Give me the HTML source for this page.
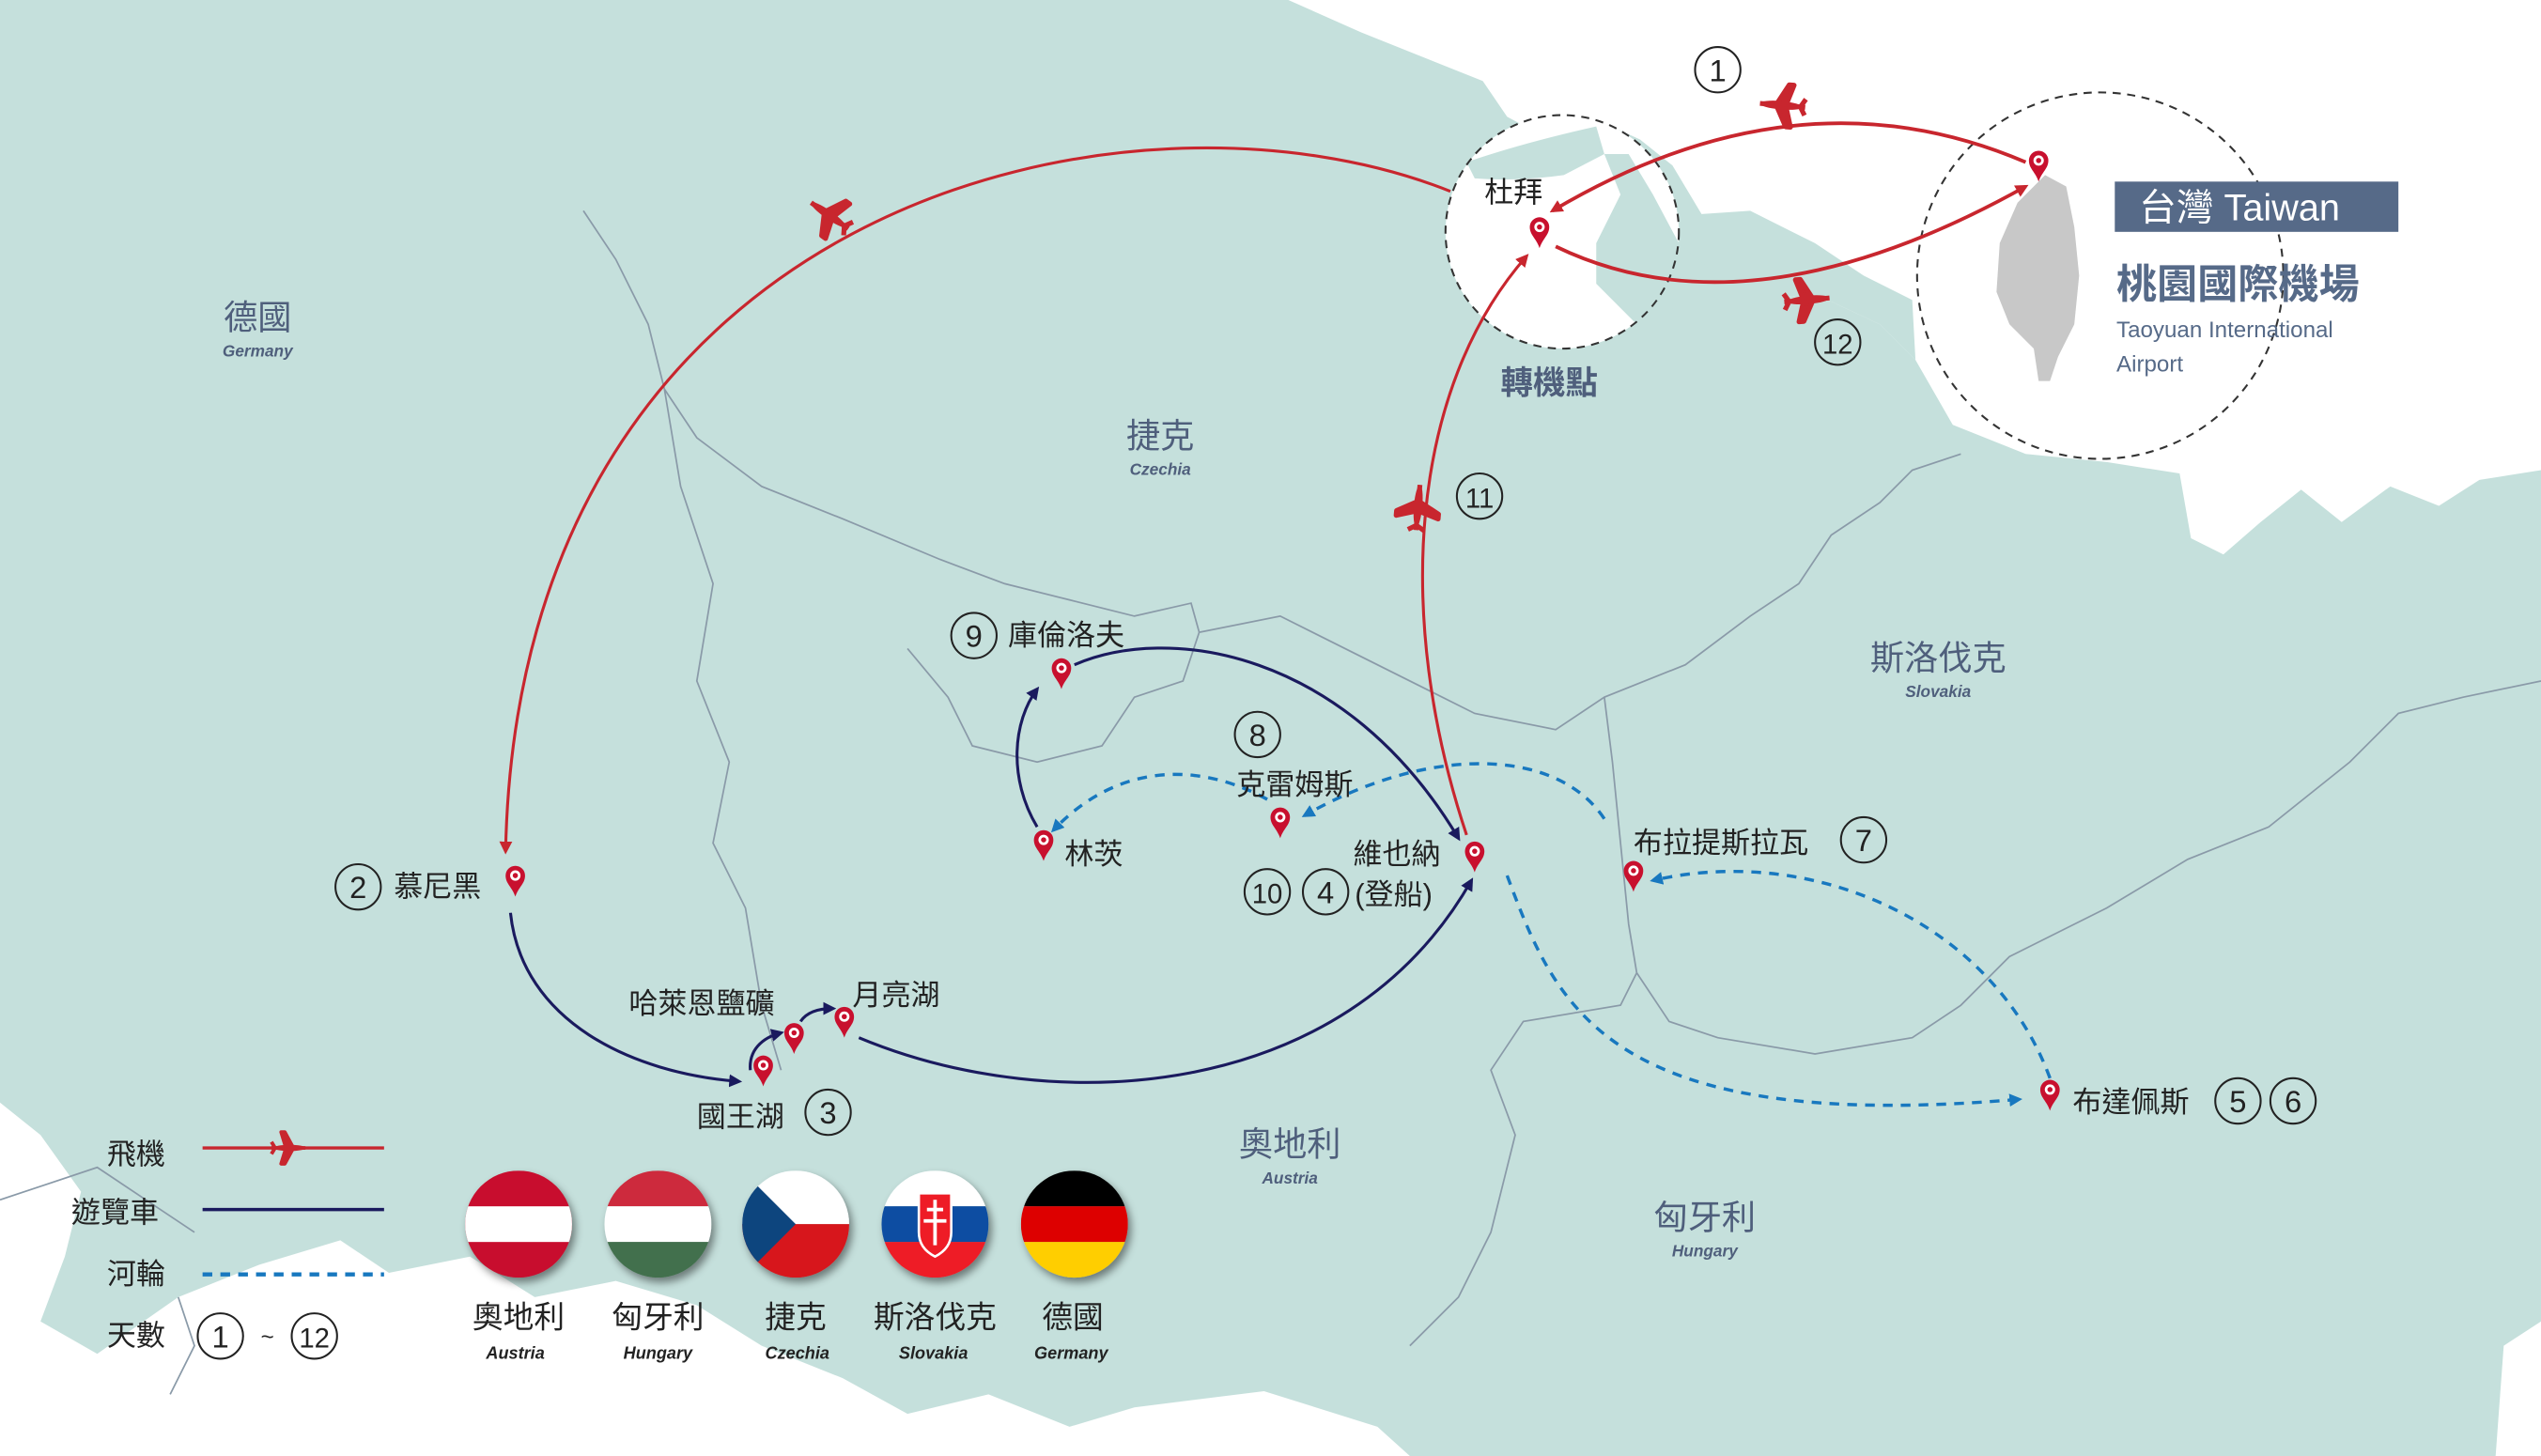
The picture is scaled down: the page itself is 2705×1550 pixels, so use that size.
<!DOCTYPE html>
<html><head><meta charset="utf-8"><style>
html,body{margin:0;padding:0;background:#fff;}
svg{display:block;}
text{font-family:"Liberation Sans","Noto Sans CJK TC",sans-serif;}
</style></head><body>
<svg width="2705" height="1550" viewBox="0 0 1568 898" preserveAspectRatio="none" xmlns="http://www.w3.org/2000/svg">
<defs>
<filter id="sh" x="-30%" y="-30%" width="160%" height="160%"><feDropShadow dx="2" dy="3" stdDeviation="2.5" flood-color="#000" flood-opacity="0.45"/></filter>
<g id="pin"><path d="M0,0 C-2,-6 -6,-8 -6,-13 A6,6 0 1 1 6,-13 C6,-8 2,-6 0,0Z" fill="#c8102e"/><circle cx="0" cy="-13" r="3.2" fill="#fff"/><circle cx="0" cy="-13" r="1.6" fill="#c8102e"/></g>
<g id="plane"><path d="M-14,0 L14,0 M4,0 L-3,-13 L-6,-13 L-2,0 L-6,13 L-3,13 L4,0 M-11,0 L-14,-5 M-11,0 L-14,5" stroke="#c8262e" stroke-width="3" fill="#c8262e" stroke-linejoin="round"/><ellipse cx="1" cy="0" rx="13" ry="2.6" fill="#c8262e"/></g>
<marker id="ar" markerWidth="8" markerHeight="8" refX="6" refY="4" orient="auto" markerUnits="userSpaceOnUse"><path d="M0,0 L8,4 L0,8Z" fill="#c8262e"/></marker>
<marker id="ab" markerWidth="8" markerHeight="8" refX="6" refY="4" orient="auto" markerUnits="userSpaceOnUse"><path d="M0,0 L8,4 L0,8Z" fill="#1a1a5e"/></marker>
<marker id="ac" markerWidth="8" markerHeight="8" refX="6" refY="4" orient="auto" markerUnits="userSpaceOnUse"><path d="M0,0 L8,4 L0,8Z" fill="#1878bf"/></marker>
</defs>
<rect width="1568" height="898" fill="#c5e0dc"/>
<!-- white top right -->
<path d="M795,0 L1568,0 L1568,290 L1530,296 L1505,312 L1475,300 L1445,322 L1420,302 L1395,322 L1372,342 L1352,332 L1345,292 L1300,285 L1250,280 L1205,262 L1182,222 L1160,200 L1130,186 L1100,182 L1072,162 L1050,132 L1032,102 L1012,86 L990,76 L960,88 L930,72 L915,50 L880,36 L840,20Z" fill="#fff"/>
<circle cx="964" cy="143" r="72" fill="#fff"/>
<path d="M905,100 Q940,88 985,78 L990,95 L965,108 Q935,112 910,110Z" fill="#c5e0dc"/>
<path d="M990,95 L1000,120 L985,150 L985,175 L1010,200 L1030,210 L1036,150 L1020,120 L1005,95Z" fill="#c5e0dc"/>
<path d="M1036,150 L1060,170 L1100,182 L1130,186 L1160,200 L1182,222 L1180,185 L1150,170 L1120,150 L1080,130 L1050,132Z" fill="#c5e0dc"/>
<!-- white bottom left -->
<path d="M0,680 L25,700 L50,735 L40,775 L25,815 L60,835 L110,800 L160,780 L210,765 L240,785 L290,775 L330,800 L380,790 L430,805 L470,830 L520,850 L560,872 L610,860 L660,880 L700,868 L780,858 L850,880 L870,898 L0,898Z" fill="#fff"/>
<path d="M1545,830 L1568,815 L1568,898 L1540,898Z" fill="#fff"/>
<!-- borders -->
<g fill="none" stroke="#8a9aa8" stroke-width="1">
<path d="M360,130 L380,160 L400,200 L410,240 L430,270 L470,300 L520,320 L580,345 L620,360 L660,370 L700,380 L735,372 L740,390"/>
<path d="M410,240 L420,300 L440,360 L430,420 L450,470 L440,520 L460,560 L470,620 L482,660"/>
<path d="M560,400 L585,430 L600,460 L640,470 L680,460 L700,430 L730,420 L740,390 L790,380 L830,400 L870,420 L910,440 L960,450 L990,430 L1040,410 L1080,380 L1110,360 L1130,330 L1160,310 L1180,290 L1210,280"/>
<path d="M990,430 L995,470 L1000,520 L1005,570 L1010,600 L1030,630 L1060,640 L1120,650 L1180,640 L1210,620 L1240,590 L1300,560 L1350,530 L1400,510 L1450,470 L1480,440 L1520,430 L1568,420"/>
<path d="M1010,600 L1000,620 L940,630 L920,660 L935,700 L920,760 L900,800 L870,830"/>
<path d="M0,740 L30,730 L60,720 L90,740 L120,760"/>
<path d="M110,800 L120,830 L105,860"/>
</g>
<!-- circles dashed -->
<circle cx="964" cy="143" r="72" fill="none" stroke="#333" stroke-width="1.2" stroke-dasharray="5,4"/>
<circle cx="1296" cy="170" r="113" fill="none" stroke="#333" stroke-width="1.2" stroke-dasharray="5,4"/>
<!-- Taiwan -->
<path d="M1262,108 L1275,115 L1280,140 L1283,170 L1280,200 L1270,220 L1265,235 L1258,235 L1255,215 L1240,200 L1232,180 L1234,150 L1245,125Z" fill="#c8c8c8"/>
<rect x="1305" y="112" width="175" height="31" fill="#566a88"/>
<text x="1320" y="136" font-size="23" fill="#fff">台灣 Taiwan</text>
<text x="1306" y="184" font-size="25" font-weight="bold" fill="#566a88">桃園國際機場</text>
<text x="1306" y="208" font-size="14" fill="#566a88">Taoyuan International</text>
<text x="1306" y="229" font-size="14" fill="#566a88">Airport</text>
<!-- country labels -->
<g fill="#4f5f7c" text-anchor="middle">
<text x="159" y="203" font-size="21">德國</text><text x="159" y="220" font-size="10" font-style="italic" font-weight="bold">Germany</text>
<text x="716" y="276" font-size="21">捷克</text><text x="716" y="293" font-size="10" font-style="italic" font-weight="bold">Czechia</text>
<text x="1196" y="413" font-size="21">斯洛伐克</text><text x="1196" y="430" font-size="10" font-style="italic" font-weight="bold">Slovakia</text>
<text x="796" y="713" font-size="21">奧地利</text><text x="796" y="730" font-size="10" font-style="italic" font-weight="bold">Austria</text>
<text x="1052" y="758" font-size="21">匈牙利</text><text x="1052" y="775" font-size="10" font-style="italic" font-weight="bold">Hungary</text>
<text x="956" y="243" font-size="20" font-weight="bold">轉機點</text>
</g>
<!-- flights -->
<g fill="none" stroke="#c8262e">
<path d="M1250,100 Q1110,40 958,130" stroke-width="2.2" marker-end="url(#ar)"/>
<path d="M960,152 Q1080,210 1250,115" stroke-width="2.2" marker-end="url(#ar)"/>
<path d="M895,118 C700,40 320,120 312,525" stroke-width="1.8" marker-end="url(#ar)"/>
<path d="M905,515 C860,380 870,240 942,158" stroke-width="1.8" marker-end="url(#ar)"/>
</g>
<use href="#plane" transform="translate(1100,65) rotate(185)"/>
<use href="#plane" transform="translate(1115,185) rotate(-5)"/>
<use href="#plane" transform="translate(512,133) rotate(215)"/>
<use href="#plane" transform="translate(875,313) rotate(-85)"/>
<!-- bus -->
<g fill="none" stroke="#1a1a5e" stroke-width="1.8">
<path d="M315,563 C322,630 390,662 456,667" marker-end="url(#ab)"/>
<path d="M463,660 C462,648 470,640 482,637" marker-end="url(#ab)"/>
<path d="M494,630 C498,624 505,622 514,622" marker-end="url(#ab)"/>
<path d="M530,640 C650,690 830,680 908,543" marker-end="url(#ab)"/>
<path d="M640,510 C622,480 625,445 640,425" marker-end="url(#ab)"/>
<path d="M663,410 C720,385 830,400 900,517" marker-end="url(#ab)"/>
</g>
<!-- river -->
<g fill="none" stroke="#1878bf" stroke-width="2" stroke-dasharray="6,5">
<path d="M930,540 C960,620 990,700 1246,678" marker-end="url(#ac)"/>
<path d="M1265,665 C1230,570 1120,520 1020,543" marker-end="url(#ac)"/>
<path d="M990,505 C960,460 880,460 805,503" marker-end="url(#ac)"/>
<path d="M782,493 C740,470 690,470 650,512" marker-end="url(#ac)"/>
</g>
<!-- pins -->
<use href="#pin" x="1258" y="112"/>
<use href="#pin" x="950" y="153"/>
<use href="#pin" x="318" y="553"/>
<use href="#pin" x="471" y="670"/>
<use href="#pin" x="490" y="650"/>
<use href="#pin" x="521" y="640"/>
<use href="#pin" x="644" y="531"/>
<use href="#pin" x="655" y="425"/>
<use href="#pin" x="790" y="517"/>
<use href="#pin" x="910" y="538"/>
<use href="#pin" x="1008" y="550"/>
<use href="#pin" x="1265" y="685"/>
<!-- labels -->
<g fill="#222" font-size="18">
<text x="916" y="125">杜拜</text>
<text x="243" y="553">慕尼黑</text>
<text x="430" y="695">國王湖</text>
<text x="388" y="625">哈萊恩鹽礦</text>
<text x="526" y="620">月亮湖</text>
<text x="657" y="533">林茨</text>
<text x="622" y="398">庫倫洛夫</text>
<text x="763" y="490">克雷姆斯</text>
<text x="835" y="533">維也納</text>
<text x="836" y="558">(登船)</text>
<text x="1008" y="526">布拉提斯拉瓦</text>
<text x="1279" y="686">布達佩斯</text>
</g>
<g fill="none" stroke="#222" stroke-width="1.2">
<circle cx="1060" cy="43" r="14"/><circle cx="1134" cy="211" r="14"/><circle cx="913" cy="306" r="14"/>
<circle cx="221" cy="547" r="14"/><circle cx="511" cy="686" r="14"/><circle cx="601" cy="392" r="14"/>
<circle cx="776" cy="453" r="14"/><circle cx="782" cy="550" r="14"/><circle cx="818" cy="550" r="14"/>
<circle cx="1150" cy="518" r="14"/><circle cx="1381" cy="679" r="14"/><circle cx="1415" cy="679" r="14"/>
<circle cx="136" cy="824" r="14"/><circle cx="194" cy="824" r="14"/>
</g>
<g fill="#222" font-size="19" text-anchor="middle">
<text x="1060" y="50">1</text><text x="1134" y="218" font-size="17">12</text><text x="913" y="313" font-size="17">11</text>
<text x="221" y="554">2</text><text x="511" y="693">3</text><text x="601" y="399">9</text>
<text x="776" y="460">8</text><text x="782" y="557" font-size="17">10</text><text x="818" y="557">4</text>
<text x="1150" y="525">7</text><text x="1381" y="686">5</text><text x="1415" y="686">6</text>
<text x="136" y="831">1</text><text x="194" y="831" font-size="17">12</text><text x="165" y="829" font-size="14">~</text>
</g>
<!-- legend -->
<g fill="#222" font-size="18">
<text x="66" y="718">飛機</text><text x="44" y="754">遊覽車</text><text x="66" y="792">河輪</text><text x="66" y="830">天數</text>
</g>
<line x1="125" y1="708" x2="237" y2="708" stroke="#c8262e" stroke-width="2"/>
<use href="#plane" transform="translate(178,708) scale(0.75)"/>
<line x1="125" y1="746" x2="237" y2="746" stroke="#1a1a5e" stroke-width="2"/>
<line x1="125" y1="786" x2="237" y2="786" stroke="#1878bf" stroke-width="2.5" stroke-dasharray="6,5"/>
<!-- flags -->
<defs>
<clipPath id="c1"><circle cx="320" cy="755" r="33"/></clipPath>
<clipPath id="c2"><circle cx="406" cy="755" r="33"/></clipPath>
<clipPath id="c3"><circle cx="491" cy="755" r="33"/></clipPath>
<clipPath id="c4"><circle cx="577" cy="755" r="33"/></clipPath>
<clipPath id="c5"><circle cx="663" cy="755" r="33"/></clipPath>
</defs>
<g filter="url(#sh)"><g clip-path="url(#c1)"><rect x="287" y="722" width="66" height="66" fill="#c8102e"/><rect x="287" y="744" width="66" height="22" fill="#fff"/></g></g>
<g filter="url(#sh)"><g clip-path="url(#c2)"><rect x="373" y="722" width="66" height="22" fill="#cd2a3e"/><rect x="373" y="744" width="66" height="22" fill="#fff"/><rect x="373" y="766" width="66" height="22" fill="#436f4d"/></g></g>
<g filter="url(#sh)"><g clip-path="url(#c3)"><rect x="458" y="722" width="66" height="33" fill="#fff"/><rect x="458" y="755" width="66" height="33" fill="#d7141a"/><path d="M458,722 L491,755 L458,788Z" fill="#11457e"/></g></g>
<g filter="url(#sh)"><g clip-path="url(#c4)"><rect x="544" y="722" width="66" height="22" fill="#fff"/><rect x="544" y="744" width="66" height="22" fill="#0b4ea2"/><rect x="544" y="766" width="66" height="22" fill="#ee1c25"/><path d="M567,736 L587,736 L587,760 Q587,770 577,775 Q567,770 567,760Z" fill="#ee1c25" stroke="#fff" stroke-width="1.5"/><path d="M577,740 V768 M572,746 H582 M570,753 H584" stroke="#fff" stroke-width="2.2"/></g></g>
<g filter="url(#sh)"><g clip-path="url(#c5)"><rect x="630" y="722" width="66" height="22" fill="#000"/><rect x="630" y="744" width="66" height="22" fill="#dd0000"/><rect x="630" y="766" width="66" height="22" fill="#ffce00"/></g></g>
<g fill="#222" text-anchor="middle">
<text x="320" y="819" font-size="19">奧地利</text><text x="406" y="819" font-size="19">匈牙利</text><text x="491" y="819" font-size="19">捷克</text><text x="577" y="819" font-size="19">斯洛伐克</text><text x="662" y="819" font-size="19">德國</text>
<g font-size="10.5" font-style="italic" font-weight="bold"><text x="318" y="838">Austria</text><text x="406" y="838">Hungary</text><text x="492" y="838">Czechia</text><text x="576" y="838">Slovakia</text><text x="661" y="838">Germany</text></g>
</g>
</svg>
</body></html>
